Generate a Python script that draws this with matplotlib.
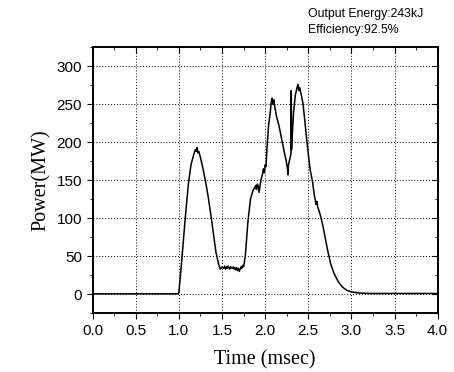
import matplotlib
matplotlib.use('Agg')
import matplotlib.pyplot as plt
from matplotlib.ticker import MultipleLocator

# pulse trace (time in msec, power in MW)
time = [0.00, 0.99, 1.00, 1.03, 1.07, 1.11, 1.14, 1.17, 1.19, 1.20, 1.21, 1.22,
        1.23, 1.25, 1.28, 1.31, 1.34, 1.37, 1.40, 1.43, 1.46, 1.48, 1.50,
        1.52, 1.53, 1.54, 1.55, 1.56, 1.57, 1.58, 1.59, 1.60, 1.62, 1.63,
        1.64, 1.65, 1.66, 1.67, 1.68, 1.69, 1.70, 1.71, 1.72, 1.73, 1.74,
        1.75, 1.77, 1.80, 1.83, 1.86, 1.88, 1.89, 1.90, 1.91, 1.92, 1.93,
        1.95, 1.97, 1.98, 1.99, 2.00, 2.01, 2.02, 2.04, 2.06, 2.07, 2.08,
        2.09, 2.10, 2.11, 2.13, 2.16, 2.19, 2.22, 2.24, 2.26, 2.265, 2.27,
        2.29, 2.30, 2.303, 2.306, 2.31, 2.33, 2.35, 2.37, 2.38, 2.39, 2.40,
        2.42, 2.44, 2.46, 2.49, 2.52, 2.55, 2.57, 2.58, 2.59, 2.60, 2.61,
        2.64, 2.67, 2.70, 2.73, 2.76, 2.80, 2.85, 2.90, 2.95, 3.00, 3.10,
        3.20, 4.00]
power = [0.5, 0.5, 2, 40, 95, 145, 170, 183, 190, 188, 193, 186,
         188, 180, 165, 148, 128, 105, 80, 55, 40, 33, 36,
         34, 37, 33, 36, 34, 37, 35, 33, 36, 34, 36,
         33, 35, 32, 35, 31, 34, 30, 33, 36, 34, 38,
         36, 50, 95, 125, 137, 140, 143, 138, 145, 142, 134,
         150, 158, 165, 160, 170, 168, 190, 222, 240, 252, 258,
         250, 256, 248, 235, 222, 205, 188, 178, 165, 157, 170,
         180, 185, 268, 190, 200, 240, 262, 272, 276, 268, 272,
         262, 250, 228, 195, 165, 148, 130, 125, 118, 122, 115,
         104, 90, 72, 55, 40, 27, 16, 9, 5, 3, 1.5,
         1, 1]

x_ticks = [0.0, 0.5, 1.0, 1.5, 2.0, 2.5, 3.0, 3.5, 4.0]
y_ticks = [0, 50, 100, 150, 200, 250, 300]

fig = plt.figure(figsize=(4.54, 3.72), dpi=100)
ax = fig.add_axes((0.204, 0.158, 0.760, 0.715))

ax.plot(time, power, color='black', lw=1.1)

ax.set_xlim(0, 4.0)
ax.set_ylim(-25, 325)
ax.set_xticks(x_ticks)
ax.set_xticklabels([f'{t:.1f}' for t in x_ticks])
ax.set_yticks(y_ticks)
ax.xaxis.set_minor_locator(MultipleLocator(0.25))
ax.yaxis.set_minor_locator(MultipleLocator(25))
ax.grid(True, which='major', color='black', linestyle=(0, (1, 2)), lw=0.7)

ax.tick_params(which='both', direction='out', labelsize=11,
               top=False, right=False)
ax.tick_params(which='major', length=4)
ax.tick_params(which='minor', length=2)
for lab in ax.get_xticklabels() + ax.get_yticklabels():
    lab.set_family('Liberation Sans')

# inward ticks on the top and right edges
ax2 = ax.twinx()
ax2.set_ylim(ax.get_ylim())
ax2.set_yticks(y_ticks)
ax2.yaxis.set_minor_locator(MultipleLocator(25))
ax2.tick_params(which='both', direction='in', labelright=False)
ax2.tick_params(which='major', length=4)
ax2.tick_params(which='minor', length=2)
ax3 = ax.twiny()
ax3.set_xlim(ax.get_xlim())
ax3.set_xticks(x_ticks)
ax3.xaxis.set_minor_locator(MultipleLocator(0.25))
ax3.tick_params(which='both', direction='in', labeltop=False)
ax3.tick_params(which='major', length=4)
ax3.tick_params(which='minor', length=2)

for a in (ax, ax2, ax3):
    for s in a.spines.values():
        s.set_linewidth(1.1)

ax.set_xlabel('Time (msec)', family='Liberation Serif', fontsize=14.5, labelpad=9)
ax.set_ylabel('Power(MW)', family='Liberation Serif', fontsize=14.5, labelpad=4)

fig.text(0.678, 0.953, 'Output Energy:243kJ', family='Liberation Sans', fontsize=8.8)
fig.text(0.678, 0.912, 'Efficiency:92.5%', family='Liberation Sans', fontsize=8.8)

fig.savefig('out.png', dpi=100)
